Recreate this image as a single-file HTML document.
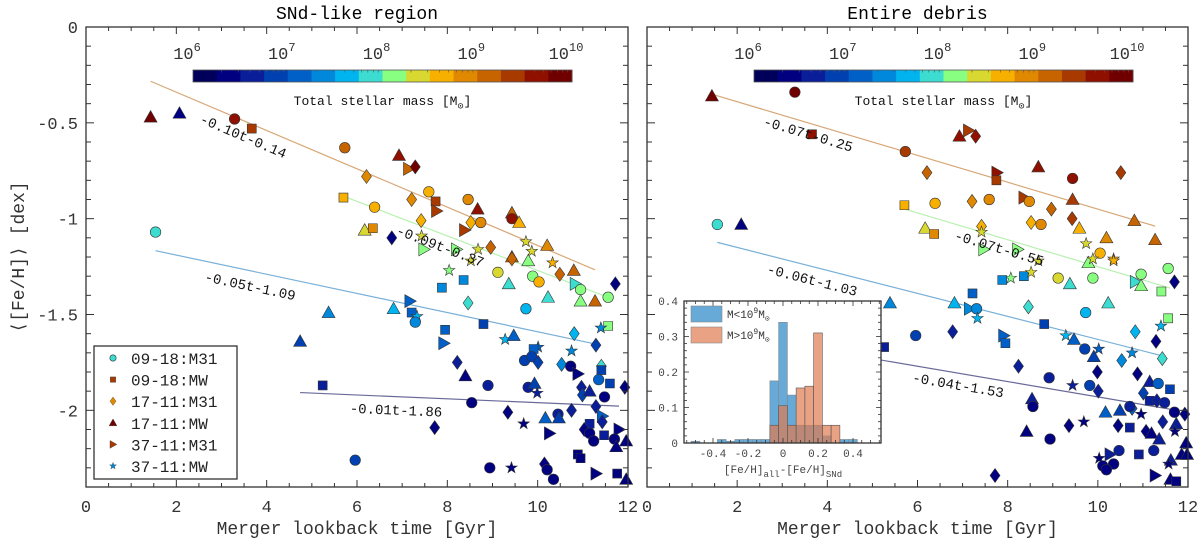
<!DOCTYPE html>
<html><head><meta charset="utf-8"><style>
body{margin:0;background:#fff}
svg{display:block;font-family:"Liberation Mono",monospace}
</style></head><body>
<svg id="chart" width="1200" height="546" viewBox="0 0 1200 546" xmlns="http://www.w3.org/2000/svg"></svg>
<script>
// ---------- DATA ----------
const massBinColors=['#00005a','#000080','#0a1e9a','#0040b0','#0060c8','#0088dc','#00b4f0','#3cdcd0','#88ff80','#d8d830','#f8b000','#e08800','#c86400','#a83a00','#901000','#700000'];
const xTicks=[0,2,4,6,8,10,12];
const yTicks=[0,-0.5,-1,-1.5,-2];
const yTickLabels=['0','-0.5','-1','-1.5','-2'];
const cbDecades=[6,7,8,9,10];
const legendLabels=['09-18:M31','09-18:MW','17-11:M31','17-11:MW','37-11:M31','37-11:MW'];
const legendShapes=['o','s','d','^','>','*'];
const legendBins=[7,13,11,15,13,5];

// SNd-like region
const leftT=[1.43,2.07,3.29,3.67,5.73,6.93,7.14,7.29,6.21,7.59,7.21,7.74,8.46,8.67,5.70,6.39,7.76,9.43,9.43,7.42,8.52,8.74,9.59,8.38,1.54,6.17,6.35,6.77,7.43,7.48,8.20,8.68,8.96,9.74,9.87,10.21,9.43,
8.04,8.52,9.43,9.79,10.33,10.8,10.49,9.12,9.89,10.03,10.83,10.95,11.56,10.95,11.27,11.72,7.88,8.36,9.36,8.46,10.23,9.74,7.17,6.81,5.37,7.21,7.33,7.29,8.8,7.95,11.56,11.4,4.74,7.92,9.28,9.47,10.81,11.29,10.01,9.91,10.75,9.71,9.87,10.01,8.22,10.53,11.41,11.41,10.73,8.4,10.89,8.9,9.79,9.93,9.99,5.24,10.97,10.99,11.15,11.35,11.6,11.48,11.93,8.54,9.34,9.69,7.72,10.17,10.45,10.47,10.75,11.29,11.43,11.43,11.15,11.03,10.26,11.15,11.24,11.47,11.8,11.7,11.96,11.74,5.96,8.94,9.42,10.15,10.21,10.35,10.89,10.95,11.29,11.76,11.96];
const leftFeh=[-0.47,-0.45,-0.48,-0.53,-0.63,-0.67,-0.74,-0.73,-0.78,-0.86,-0.90,-0.91,-0.90,-0.95,-0.89,-0.94,-0.96,-0.97,-1.00,-1.01,-1.02,-1.02,-1.02,-1.06,-1.07,-1.06,-1.05,-1.10,-1.09,-1.16,-1.16,-1.16,-1.15,-1.12,-1.17,-1.14,-1.20,
-1.27,-1.22,-1.21,-1.22,-1.23,-1.27,-1.29,-1.28,-1.30,-1.33,-1.34,-1.37,-1.41,-1.43,-1.43,-1.34,-1.36,-1.32,-1.34,-1.44,-1.41,-1.47,-1.43,-1.47,-1.49,-1.49,-1.51,-1.54,-1.55,-1.58,-1.56,-1.57,-1.64,-1.65,-1.63,-1.61,-1.60,-1.66,-1.67,-1.68,-1.69,-1.74,-1.72,-1.75,-1.75,-1.76,-1.77,-1.79,-1.77,-1.82,-1.81,-1.87,-1.88,-1.86,-1.91,-1.87,-1.88,-1.92,-1.90,-1.84,-1.86,-1.93,-1.88,-1.96,-2.01,-2.07,-2.09,-2.04,-2.02,-2.04,-2.00,-1.98,-2.03,-2.06,-2.07,-2.10,-2.12,-2.12,-2.16,-2.13,-2.10,-2.15,-2.16,-2.19,-2.26,-2.30,-2.30,-2.28,-2.31,-2.36,-2.23,-2.25,-2.33,-2.33,-2.36];
const leftLogM=[9.9,6.4,9.6,9.4,9.1,9.6,9.1,9.9,8.9,8.6,8.9,9.4,8.9,9.6,8.6,8.6,9.4,9.1,9.6,8.6,8.6,8.9,8.6,9.4,7.9,8.4,8.9,6.4,8.4,8.1,8.1,8.4,9.1,8.4,8.4,8.9,9.1,
8.1,8.4,9.1,8.1,8.6,9.1,9.1,8.4,8.1,8.6,7.9,8.1,8.1,8.1,9.1,6.4,7.4,7.4,7.9,7.9,7.9,7.6,7.1,7.6,7.4,7.1,7.6,7.4,6.9,7.1,8.1,7.4,6.9,7.1,7.6,7.1,7.6,6.9,7.1,7.1,7.4,6.9,6.9,6.9,6.6,7.4,7.9,6.9,6.4,6.4,6.4,6.6,6.6,6.9,6.6,6.6,6.6,6.9,6.6,7.1,6.9,6.4,6.4,6.4,6.4,6.4,6.4,7.1,6.6,6.9,6.6,6.6,7.1,6.6,6.6,6.4,6.4,6.4,6.4,6.6,6.4,6.4,6.4,6.4,6.9,6.4,6.4,6.4,6.4,6.4,6.4,6.4,6.4,6.4,6.4];
const leftShape=['^','^','o','s','o','^','>','d','d','o','d','s','o','^','s','o','>','^','o','d','d','o','^','>','o','^','s','d','*','>','>','*','d','*','*','^','^',
'*','*','d','^','*','^','d','o','o','o','>','o','o','^','^','d','s','s','^','d','^','o','>','^','^','s','*','o','s','s','s','*','^','>','*','^','d','d','*','s','*','o','o','d','d','d','d','s','o','^','>','o','o','^','*','s','d','d','^','o','s','o','d','o','d','*','d','^','o','^','d','d','>','d','s','d','>','o','o','s','>','o','^','^','o','o','*','d','o','o','s','s','>','s','^'];

// Entire debris
const rightT=[1.44,3.28,3.66,5.73,6.93,7.13,7.29,6.21,7.76,7.75,8.68,9.44,10.51,7.21,7.59,8.36,8.48,9.44,8.97,9.43,5.71,6.39,8.52,8.74,9.59,10.81,11.27,10.19,1.56,2.09,6.17,6.37,7.42,7.42,7.47,8.22,9.74,10.05,10.35,
8.68,9.79,9.89,10.35,10.96,11.56,11.7,10.83,10.96,11.41,11.56,9.12,9.89,9.38,8.07,7.88,8.36,8.52,7.22,8.46,10.23,9.73,6.82,7.15,7.31,7.33,5.39,8.81,11.4,10.83,9.29,9.47,7.91,7.95,5.96,6.78,5.26,11.29,9.71,9.91,10.02,10.76,10.53,11.43,8.24,8.92,9.99,9.82,9.44,10.01,10.88,11.15,11.34,11.6,11.01,11.15,11.31,11.48,8.54,8.56,10.17,10.49,10.76,10.71,10.96,11.7,11.93,9.36,9.69,10.45,10.71,11.07,11.19,11.44,11.74,11.71,11.36,8.42,8.94,11.96,10.47,10.27,10.91,11.24,10.03,10.11,10.35,10.19,11.62,11.86,11.98,11.57,11.27,11.61,11.74,7.72];
const rightFeh=[-0.36,-0.34,-0.56,-0.65,-0.57,-0.54,-0.57,-0.76,-0.76,-0.80,-0.73,-0.79,-0.76,-0.91,-0.90,-0.89,-0.91,-0.90,-0.95,-1.00,-0.93,-0.92,-1.02,-1.03,-1.05,-1.01,-1.11,-1.10,-1.03,-1.03,-1.05,-1.08,-1.04,-1.07,-1.16,-1.16,-1.13,-1.18,-1.21,
-1.22,-1.23,-1.21,-1.22,-1.29,-1.26,-1.33,-1.33,-1.35,-1.38,-1.52,-1.31,-1.31,-1.34,-1.31,-1.32,-1.30,-1.28,-1.39,-1.46,-1.44,-1.49,-1.44,-1.47,-1.47,-1.52,-1.44,-1.55,-1.56,-1.59,-1.61,-1.63,-1.61,-1.65,-1.61,-1.59,-1.67,-1.64,-1.68,-1.72,-1.68,-1.70,-1.74,-1.73,-1.77,-1.83,-1.80,-1.87,-1.87,-1.90,-1.81,-1.85,-1.86,-1.89,-1.91,-1.95,-1.95,-1.96,-1.94,-1.98,-2.01,-2.00,-1.99,-1.98,-2.02,-2.01,-2.02,-2.08,-2.06,-2.08,-2.09,-2.11,-2.12,-2.06,-2.07,-2.11,-2.15,-2.11,-2.15,-2.17,-2.21,-2.23,-2.23,-2.21,-2.25,-2.29,-2.28,-2.31,-2.26,-2.23,-2.23,-2.28,-2.34,-2.36,-2.37,-2.34];
const rightLogM=[9.9,9.9,9.6,9.4,9.6,9.4,9.6,9.1,9.6,9.4,9.6,9.6,9.4,8.9,8.9,9.4,8.9,9.4,9.1,9.4,8.6,8.6,8.6,8.9,8.6,9.1,9.1,8.9,7.9,6.4,8.4,8.9,8.6,8.4,8.1,8.1,8.4,8.6,8.6,
8.4,8.1,8.4,8.6,8.1,8.1,6.4,7.9,8.1,8.1,8.1,8.4,8.1,7.9,8.1,7.4,7.4,8.4,7.1,7.9,7.9,7.6,7.6,7.4,7.4,7.6,7.4,6.9,7.6,7.6,7.6,7.1,7.1,7.1,6.9,6.6,6.6,6.4,6.9,6.9,7.1,7.4,7.4,7.9,6.6,6.6,6.4,6.9,6.6,6.6,6.4,6.6,7.1,6.9,6.9,6.6,6.6,6.6,6.6,6.4,7.1,6.9,7.1,6.6,6.4,6.4,6.4,6.4,6.4,6.4,6.6,6.4,6.4,6.6,6.6,6.4,6.6,6.4,6.4,6.4,6.6,6.6,6.6,6.6,6.4,6.4,6.4,6.4,6.6,6.4,6.4,6.4,6.4,6.4,6.4,6.4];
const rightShape=['^','o','s','o','^','>','d','d','>','s','^','o','d','d','o','>','o','^','d','d','s','o','d','o','^','^','^','^','o','^','^','s','d','*','>','>','*','o','*',
'*','^','*','*','o','o','d','>','^','s','s','o','o','^','*','s','s','*','s','d','^','o','^','>','o','*','^','s','*','d','*','^','>','s','o','d','s','d','o','^','*','*','d','d','d','o','d','o','*','d','d','^','o','s','d','s','d','o','^','o','^','^','d','o','*','o','d','d','*','d','s','d','^','d','^','*','^','^','o','^','o','>','s','o','*','o','o','o','^','^','^','*','>','^','s','d'];

// fits: slope, intercept, t-range
const leftFitSlope=[-0.10,-0.09,-0.05,-0.01];
const leftFitIntercept=[-0.14,-0.37,-1.09,-1.86];
const leftFitStart=[1.43,5.70,1.54,4.74];
const leftFitEnd=[11.27,11.56,11.35,11.8];
const rightFitSlope=[-0.07,-0.07,-0.06,-0.04];
const rightFitIntercept=[-0.25,-0.55,-1.03,-1.53];
const rightFitStart=[1.44,5.71,1.56,4.5];
const rightFitEnd=[11.27,11.6,11.4,11.7];
const fitColors=['#d8a878','#b8f0b0','#78b0d8','#6a6a9a'];
const leftFitLabels=['-0.10t-0.14','-0.09t-0.37','-0.05t-1.09','-0.01t-1.86'];
const rightFitLabels=['-0.07t-0.25','-0.07t-0.55','-0.06t-1.03','-0.04t-1.53'];

// inset histogram
const histCenters=[-0.5,-0.45,-0.4,-0.35,-0.3,-0.25,-0.2,-0.15,-0.1,-0.05,0,0.05,0.1,0.15,0.2,0.25,0.3,0.35,0.4,0.45];
const histLowMass=[0.005,0,0,0.01,0.005,0.01,0.01,0.01,0.01,0.175,0.34,0.135,0.05,0.05,0.05,0.02,0,0.01,0.01,0];
const histHighMass=[0,0,0,0,0,0,0,0,0,0.05,0.105,0.05,0.155,0.16,0.31,0.05,0.05,0,0,0];
const histXTicks=[-0.4,-0.2,0,0.2,0.4];
const histYTicks=[0,0.1,0.2,0.3,0.4];

// ---------- DRAW ----------
const NS='http://www.w3.org/2000/svg';
const svg=document.getElementById('chart');
function el(tag,attrs,parent){const e=document.createElementNS(NS,tag);for(const k in attrs)e.setAttribute(k,attrs[k]);(parent||svg).appendChild(e);return e;}
function binColor(m){let b=Math.floor((m-6)*4);b=Math.max(0,Math.min(15,b));return massBinColors[b];}

function markerPath(shape,x,y){
  const r=5;
  if(shape==='o')return null;
  if(shape==='s')return `M${x-4.5},${y-4.5}h9v9h-9z`;
  if(shape==='d')return `M${x},${y-7}L${x+5},${y}L${x},${y+7}L${x-5},${y}z`;
  if(shape==='^')return `M${x},${y-6.5}L${x+6.5},${y+5}L${x-6.5},${y+5}z`;
  if(shape==='>')return `M${x+6.5},${y}L${x-5},${y-6.5}L${x-5},${y+6.5}z`;
  if(shape==='*'){let p='';for(let i=0;i<10;i++){const a=-Math.PI/2+i*Math.PI/5;const rr=i%2?2.4:6;p+=(i?'L':'M')+(x+rr*Math.cos(a)).toFixed(2)+','+(y+rr*Math.sin(a)).toFixed(2);}return p+'z';}
}
function drawMarker(g,shape,x,y,color,sc){
  sc=sc||1;
  let m;
  if(shape==='o'){m=el('circle',{cx:x,cy:y,r:5.3*sc,fill:color,stroke:'#333','stroke-width':0.6},g);}
  else{m=el('path',{d:markerPath(shape,x,y),fill:color,stroke:'#333','stroke-width':0.6},g);
    if(sc!==1)m.setAttribute('transform',`translate(${x},${y}) scale(${sc}) translate(${-x},${-y})`);}
  return m;
}

function panel(cfg){
  const {x0,x1,y0,y1,name,title}=cfg;
  const X=t=>x0+(t/12)*(x1-x0);
  const Y=f=>y0+(-f/2.4)*(y1-y0);
  const g=el('g',{});
  
  
  const tt=el('text',{x:(x0+x1)/2,y:19,'text-anchor':'middle','font-size':18,fill:'#000'},g);
  tt.textContent=title;
  
  
  // colorbar
  const cbx0=x0+(193-86),cbx1=x0+(572-86);
  const cb=el('g',{},g);
  
  
  const bw=(cbx1-cbx0)/16;
  massBinColors.forEach((c,i)=>{el('rect',{x:cbx0+i*bw,y:70,width:bw+0.5,height:12,fill:c},cb);});
  el('rect',{x:cbx0,y:70,width:cbx1-cbx0,height:12,fill:'none',stroke:'#555','stroke-width':0.8},cb);
  cbDecades.forEach((d,i)=>{
    const x=cbx0+(d-6)/4*(cbx1-cbx0);
    const t=el('text',{x:x-6,y:59,'text-anchor':'middle','font-size':17,fill:'#333'},cb);
    t.textContent='10';
    const s=el('tspan',{dy:-8,'font-size':12},t);s.textContent=d;
    if(d<10)for(let k=2;k<10;k++){const xm=x+Math.log10(k)/4*(cbx1-cbx0);el('line',{x1:xm,x2:xm,y1:70,y2:72.5,stroke:'#555','stroke-width':0.6},cb);}
  });
  const cl=el('text',{x:(cbx0+cbx1)/2,y:105,'text-anchor':'middle','font-size':13,fill:'#111'},cb);
  cl.textContent='Total stellar mass [M';
  const cs=el('tspan',{dy:4,'font-size':10},cl);cs.textContent='⊙';
  const ce=el('tspan',{dy:-4},cl);ce.textContent=']';
  // fits
  cfg.slope.forEach((s,i)=>{
    const ln=el('line',{x1:X(cfg.start[i]),y1:Y(s*cfg.start[i]+cfg.icpt[i]),x2:X(cfg.end[i]),y2:Y(s*cfg.end[i]+cfg.icpt[i]),stroke:fitColors[i],'stroke-width':1.2},g);
    
    
  });
  // points
  const pts=el('g',{},g);
  
  
  cfg.t.forEach((t,i)=>{
    const m=drawMarker(pts,cfg.shape[i],X(t),Y(cfg.feh[i]),binColor(cfg.logm[i]));
    
    
  });
  // fit labels
  cfg.labels.forEach((lab,i)=>{
    const p=cfg.labelPos[i];
    const ang=Math.atan(-cfg.slope[i]*(y1-y0)/2.4/((x1-x0)/12))*180/Math.PI;
    const t=el('text',{x:p[0],y:p[1],'text-anchor':'middle','dominant-baseline':'middle','font-size':14,fill:'#111',transform:`rotate(${ang.toFixed(1)},${p[0]},${p[1]})`},g);
    t.textContent=lab;
    
    
  });
  // frame and ticks
  el('rect',{x:x0,y:y0,width:x1-x0,height:y1-y0,fill:'none',stroke:'#333','stroke-width':1.3},g);
  for(let t=0;t<=12.001;t+=0.5){
    const x=X(t),L=(Math.abs(t%2)<0.01)?7:4;
    el('line',{x1:x,x2:x,y1:y1,y2:y1-L,stroke:'#333','stroke-width':1},g);
    el('line',{x1:x,x2:x,y1:y0,y2:y0+L,stroke:'#333','stroke-width':1},g);
  }
  for(let k=0;k<=24;k++){
    const y=Y(-k/10),L=(k%5===0)?8:5;
    el('line',{x1:x0,x2:x0+L,y1:y,y2:y,stroke:'#333','stroke-width':1},g);
    el('line',{x1:x1,x2:x1-L,y1:y,y2:y,stroke:'#333','stroke-width':1},g);
  }
  xTicks.forEach(t=>{const tx=el('text',{x:X(t),y:y1+25,'text-anchor':'middle','font-size':17,fill:'#333'},g);tx.textContent=t;});
  if(cfg.yLabels){yTicks.forEach((v,i)=>{const tx=el('text',{x:x0-8,y:Y(v)+6,'text-anchor':'end','font-size':17,fill:'#333'},g);tx.textContent=yTickLabels[i];});}
  const xl=el('text',{x:(x0+x1)/2,y:534,'text-anchor':'middle','font-size':18,fill:'#333'},g);
  xl.textContent='Merger lookback time [Gyr]';
  
  
  return {X,Y,g};
}

panel({x0:86,x1:628,y0:27,y1:487,name:'sndlike-panel',title:'SNd-like region',t:leftT,feh:leftFeh,logm:leftLogM,shape:leftShape,
  slope:leftFitSlope,icpt:leftFitIntercept,start:leftFitStart,end:leftFitEnd,labels:leftFitLabels,
  labelPos:[[243,137],[440,247],[250,287],[396,411]],yLabels:true});
panel({x0:647,x1:1188,y0:27,y1:487,name:'entire-debris-panel',title:'Entire debris',t:rightT,feh:rightFeh,logm:rightLogM,shape:rightShape,
  slope:rightFitSlope,icpt:rightFitIntercept,start:rightFitStart,end:rightFitEnd,labels:rightFitLabels,
  labelPos:[[808,135],[999,249],[812,281],[958,386]],yLabels:false});

// y axis title
const yl=el('text',{x:0,y:0,'text-anchor':'middle','font-size':18,fill:'#333',transform:'translate(24,257) rotate(-90)'});
yl.textContent='⟨[Fe/H]⟩ [dex]';



// legend
const lg=el('g',{});


el('rect',{x:94,y:346,width:143,height:133,fill:'#fff',stroke:'#333','stroke-width':1.3},lg);
legendLabels.forEach((lab,i)=>{
  const y=358+i*21.6;
  const e=el('g',{},lg);
  
  
  drawMarker(e,legendShapes[i],113,y,massBinColors[legendBins[i]],0.6);
  const t=el('text',{x:131,y:y+6,'font-size':16,fill:'#222'},e);t.textContent=lab;
});

// inset histogram
const ix0=684,ix1=881,iy0=301,iy1=443;
const HX=v=>783+v*175;
const HY=v=>iy1-v/0.4*(iy1-iy0);
const ins=el('g',{});


el('rect',{x:ix0,y:iy0,width:ix1-ix0,height:iy1-iy0,fill:'#fff'},ins);
const bwd=0.05;
histCenters.forEach((c,i)=>{
  if(histLowMass[i]>0){const r=el('rect',{x:HX(c-bwd/2),y:HY(histLowMass[i]),width:bwd*175,height:iy1-HY(histLowMass[i]),fill:'#4e9bd0','fill-opacity':0.85,stroke:'#888','stroke-width':0.6},ins);
    }
});
histCenters.forEach((c,i)=>{
  if(histHighMass[i]>0){const r=el('rect',{x:HX(c-bwd/2),y:HY(histHighMass[i]),width:bwd*175,height:iy1-HY(histHighMass[i]),fill:'#e07a50','fill-opacity':0.7,stroke:'#555','stroke-width':0.6},ins);
    }
});
el('rect',{x:ix0,y:iy0,width:ix1-ix0,height:iy1-iy0,fill:'none',stroke:'#333','stroke-width':1.3},ins);
for(let v=-0.55;v<=0.551;v+=0.05){const x=HX(v);const L=(Math.abs(Math.round(v*100)%20)<1)?5:3;
  el('line',{x1:x,x2:x,y1:iy1,y2:iy1-L,stroke:'#333','stroke-width':0.8},ins);el('line',{x1:x,x2:x,y1:iy0,y2:iy0+L,stroke:'#333','stroke-width':0.8},ins);}
for(let v=0;v<=0.4001;v+=0.02){const y=HY(v);const L=(Math.round(v*100)%10===0)?5:3;
  el('line',{x1:ix0,x2:ix0+L,y1:y,y2:y,stroke:'#333','stroke-width':0.8},ins);el('line',{x1:ix1,x2:ix1-L,y1:y,y2:y,stroke:'#333','stroke-width':0.8},ins);}
histXTicks.forEach(v=>{const t=el('text',{x:HX(v),y:iy1+14,'text-anchor':'middle','font-size':11,fill:'#444'},ins);t.textContent=v;});
histYTicks.forEach(v=>{const t=el('text',{x:ix0-6,y:HY(v)+4,'text-anchor':'end','font-size':11,fill:'#444'},ins);t.textContent=v;});
const hxl=el('text',{x:783,y:iy1+30,'text-anchor':'middle','font-size':11,fill:'#444'},ins);
hxl.textContent='[Fe/H]';
let sp=el('tspan',{dy:4,'font-size':9},hxl);sp.textContent='all';
sp=el('tspan',{dy:-4},hxl);sp.textContent='-[Fe/H]';
sp=el('tspan',{dy:4,'font-size':9},hxl);sp.textContent='SNd';
[['#4e9bd0',0.85,'M<10','legend-low-mass'],['#e07a50',0.7,'M>10','legend-high-mass']].forEach((d,i)=>{
  const y=306+i*21;
  const e=el('g',{},ins);
  
  
  el('rect',{x:691,y:y,width:31,height:16,fill:d[0],'fill-opacity':d[1],stroke:'#888','stroke-width':0.6},e);
  const t=el('text',{x:727,y:y+12,'font-size':11,fill:'#333'},e);t.textContent=d[2];
  let s=el('tspan',{dy:-5,'font-size':8},t);s.textContent='9';
  s=el('tspan',{dy:5},t);s.textContent='M';
  s=el('tspan',{dy:3,'font-size':8},t);s.textContent='⊙';
});
</script>
</body></html>
